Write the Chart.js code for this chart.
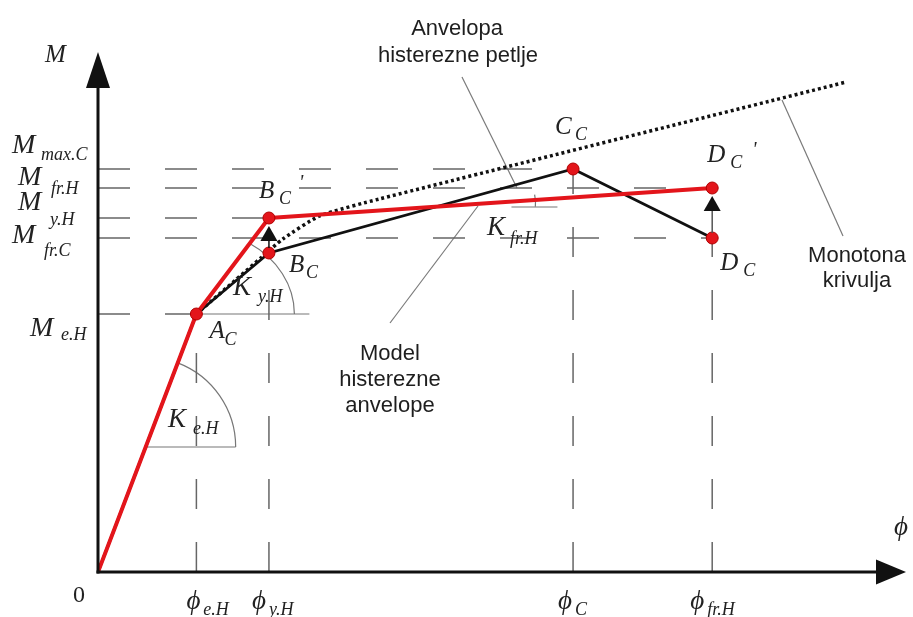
<!DOCTYPE html>
<html><head><meta charset="utf-8">
<script src="https://cdn.jsdelivr.net/npm/chart.js@4.4.1/dist/chart.umd.min.js"></script>
<style>html,body{margin:0;padding:0;background:#fff;}#wrap{width:913px;height:617px;position:relative;}</style>
</head><body><div id="wrap"><canvas id="c"></canvas></div>
<script>
// ---- symbolic tick values (curvature phi, moment M) ----
const phiTickLabels = ['e.H', 'y.H', 'C', 'fr.H'];
const phiTicks      = [0.99, 1.72, 4.78, 6.18];
const mTickLabels   = ['e.H', 'fr.C', 'y.H', 'fr.H', 'max.C'];
const mTicks        = [2.58, 3.34, 3.54, 3.84, 4.03];

// ---- hysteresis loop envelope (black): 0, A_C, B_C, C_C, D_C ----
const envelopePhi = [0, 0.99, 1.72, 4.78, 6.18];
const envelopeM   = [0, 2.58, 3.19, 4.03, 3.34];

// ---- model of the hysteresis envelope (red): 0, A_C, B_C', D_C' ----
const modelPhi = [0, 0.99, 1.72, 6.18];
const modelM   = [0, 2.58, 3.54, 3.84];

// ---- monotonic curve (dotted) ----
const monoPhi = [0.99, 1.65, 1.86, 2.23, 2.83, 7.53];
const monoM   = [2.58, 3.15, 3.33, 3.56, 3.73, 4.90];

// ---- dashed reference line extents ----
const hRefEnd = [0.99, 6.18, 1.72, 6.18, 4.78];   // for each mTick
const vRefTop = [2.58, 3.19, 4.03, 3.34];         // for each phiTick

const axisMax = {x: 8.13, y: 5.20};

const RED = '#e3151b';
const SERIF = '"Liberation Serif","DejaVu Serif",serif';
const SANS = '"Liberation Sans",Arial,sans-serif';

const datasets = [];
const markerPts = [];
[1,2,3,4].forEach(i => markerPts.push({x: envelopePhi[i], y: envelopeM[i]}));
[2,3].forEach(i => markerPts.push({x: modelPhi[i], y: modelM[i]}));
datasets.push({data: markerPts, showLine: false, pointRadius: 6, pointBackgroundColor: RED,
  pointBorderColor: '#b00000', pointBorderWidth: 1, order: 0});
datasets.push({data: modelPhi.map((v,i)=>({x:v,y:modelM[i]})), showLine: true, borderColor: RED,
  borderWidth: 4, pointRadius: 0, order: 1, borderJoinStyle: 'round'});
datasets.push({data: envelopePhi.map((v,i)=>({x:v,y:envelopeM[i]})), showLine: true, borderColor: '#111',
  borderWidth: 2.8, pointRadius: 0, order: 2});
datasets.push({data: monoPhi.map((v,i)=>({x:v,y:monoM[i]})), showLine: true, borderColor: '#111',
  borderWidth: 3.5, borderDash: [3, 3], pointRadius: 0, order: 3, tension: 0.2});
mTicks.forEach((m,i) => datasets.push({data: [{x:0,y:m},{x:hRefEnd[i],y:m}], showLine: true,
  borderColor: '#666', borderWidth: 1.5, borderDash: [32, 35], pointRadius: 0, order: 5}));
phiTicks.forEach((p,i) => datasets.push({data: [{x:p,y:0},{x:p,y:vRefTop[i]}], showLine: true,
  borderColor: '#666', borderWidth: 1.5, borderDash: [30, 33], pointRadius: 0, order: 5}));

function txt(ctx, s, x, y, font, align) {
  ctx.font = font; ctx.textAlign = align || 'left'; ctx.textBaseline = 'alphabetic';
  ctx.fillText(s, x, y);
}

const deco = {
  id: 'deco',
  beforeDatasetsDraw(chart) {
    const {ctx, scales: {x, y}} = chart;
    const X = v => x.getPixelForValue(v), Y = v => y.getPixelForValue(v);
    ctx.save();
    ctx.strokeStyle = '#777'; ctx.lineWidth = 1.2;
    // K_e.H angle: centre on red line at M = 1.25
    const ang1 = Math.atan2(Y(0) - Y(modelM[1]), X(modelPhi[1]) - X(0));
    const cy1 = Y(1.25), cx1 = X(0) + (Y(0) - cy1) / Math.tan(ang1);
    ctx.beginPath(); ctx.moveTo(cx1, cy1); ctx.lineTo(cx1 + 90, cy1); ctx.stroke();
    ctx.beginPath(); ctx.arc(cx1, cy1, 90, -ang1, 0); ctx.stroke();
    // K_y.H angle at A_C
    const ax = X(envelopePhi[1]), ay = Y(envelopeM[1]);
    const ang2 = Math.atan2(ay - Y(modelM[2]), X(modelPhi[2]) - ax);
    ctx.beginPath(); ctx.moveTo(ax, ay); ctx.lineTo(ax + 113, ay); ctx.stroke();
    let th = 0;
    for (let t = 0; t < Math.PI/2; t += 0.005) {
      const px = 98*Math.cos(t), py = 84*Math.sin(t);
      if (Math.atan2(py, px) >= ang2) { th = t; break; }
    }
    ctx.beginPath(); ctx.ellipse(ax, ay, 98, 84, 0, -th, 0); ctx.stroke();
    // K_fr.H angle (small)
    const fx = X(4.16), fy = Y(3.65);
    ctx.beginPath(); ctx.moveTo(fx, fy); ctx.lineTo(fx + 46, fy); ctx.stroke();
    ctx.beginPath(); ctx.arc(X(4.02), Y(3.69), 38, -0.22, 0.1); ctx.stroke();
    // leader lines
    ctx.strokeStyle = '#7a7a7a'; ctx.lineWidth = 1.2;
    ctx.beginPath(); ctx.moveTo(462, 77); ctx.lineTo(517, 188); ctx.stroke();
    ctx.beginPath(); ctx.moveTo(390, 323); ctx.lineTo(478, 206); ctx.stroke();
    ctx.beginPath(); ctx.moveTo(782, 100); ctx.lineTo(843, 236); ctx.stroke();
    ctx.restore();
  },
  afterDatasetsDraw(chart) {
    const {ctx, scales: {x, y}} = chart;
    const X = v => x.getPixelForValue(v), Y = v => y.getPixelForValue(v);
    ctx.save();
    const x0 = X(0), y0 = Y(0), xm = X(axisMax.x), ym = Y(axisMax.y);
    // axes
    ctx.strokeStyle = '#111'; ctx.fillStyle = '#111'; ctx.lineWidth = 3;
    ctx.beginPath(); ctx.moveTo(x0, y0 + 1.5); ctx.lineTo(x0, ym + 36); ctx.stroke();
    ctx.beginPath(); ctx.moveTo(x0 - 1.5, y0); ctx.lineTo(xm - 28, y0); ctx.stroke();
    ctx.beginPath(); ctx.moveTo(x0, ym); ctx.lineTo(x0 - 12, ym + 36); ctx.lineTo(x0 + 12, ym + 36); ctx.closePath(); ctx.fill();
    ctx.beginPath(); ctx.moveTo(xm, y0); ctx.lineTo(xm - 30, y0 - 12.5); ctx.lineTo(xm - 30, y0 + 12.5); ctx.closePath(); ctx.fill();
    // small arrows B_C -> B_C', D_C -> D_C'
    [[2, 2, 1.5, '#111'], [4, 3, 1.5, '#555']].forEach(([ei, mi, lw, col]) => {
      const px = X(envelopePhi[ei]), top = Y(modelM[mi]) + 8, bot = Y(envelopeM[ei]);
      ctx.strokeStyle = col; ctx.lineWidth = lw;
      ctx.beginPath(); ctx.moveTo(px, top + 14); ctx.lineTo(px, bot - 5); ctx.stroke();
      ctx.fillStyle = '#111';
      ctx.beginPath(); ctx.moveTo(px, top); ctx.lineTo(px - 8.5, top + 15); ctx.lineTo(px + 8.5, top + 15); ctx.closePath(); ctx.fill();
    });
    ctx.fillStyle = '#222';
    const mainF = 'italic 28px ' + SERIF, subF = 'italic 18px ' + SERIF;
    // y tick labels (M)
    const yLay = [ // [Mx, Mdy, subx, subdy]
      [30, 22, 61, 26], [12, 5, 44, 18], [18, -8, 50, 7], [18, -3, 51, 6], [12, -16, 41, -9]];
    mTicks.forEach((m, i) => {
      const ty = Y(m), L = yLay[i];
      txt(ctx, 'M', L[0], ty + L[1], mainF);
      txt(ctx, mTickLabels[i], L[2], ty + L[3], subF);
    });
    // x tick labels (phi)
    const xOff = [-10, -17, -15, -22];
    phiTicks.forEach((p, i) => {
      const tx = X(p) + xOff[i];
      txt(ctx, '\u03D5', tx, 609, 'italic 27px ' + SERIF);
      const w = ctx.measureText('\u03D5').width;
      txt(ctx, phiTickLabels[i], tx + w + 3, 615, subF);
    });
    // axis titles
    txt(ctx, 'M', 45, 62, 'italic 25px ' + SERIF);
    txt(ctx, '0', 73, 602, '24px ' + SERIF);
    txt(ctx, '\u03D5', 894, 535, 'italic 27px ' + SERIF);
    // point labels
    const ptF = 'italic 25px ' + SERIF, ptS = 'italic 18px ' + SERIF;
    const pl = (name, px, py, dx, dy, sdx, sdy, prime) => {
      txt(ctx, name, px + dx, py + dy, ptF);
      txt(ctx, 'C', px + sdx, py + sdy, ptS);
      if (prime) txt(ctx, "'", px + prime[0], py + prime[1], 'italic 20px ' + SERIF);
    };
    pl('A', X(envelopePhi[1]), Y(envelopeM[1]), 13, 24, 28, 31);
    pl('B', X(envelopePhi[2]), Y(envelopeM[2]), 20, 19, 37, 25);
    pl('C', X(envelopePhi[3]), Y(envelopeM[3]), -18, -35, 2, -29);
    pl('D', X(envelopePhi[4]), Y(envelopeM[4]), 8, 32, 31, 38);
    pl('B', X(modelPhi[2]), Y(modelM[2]), -10, -20, 10, -14, [30, -29]);
    pl('D', X(modelPhi[3]), Y(modelM[3]), -5, -26, 18, -20, [40, -32]);
    // stiffness labels
    const kF = 'italic 27px ' + SERIF;
    txt(ctx, 'K', 168, 427, kF); txt(ctx, 'e.H', 193, 434, subF);
    txt(ctx, 'K', 233, 295, kF); txt(ctx, 'y.H', 258, 302, subF);
    txt(ctx, 'K', 487, 235, kF); txt(ctx, 'fr.H', 510, 244, subF);
    // annotations
    const aF = '22px ' + SANS;
    ctx.fillStyle = '#1e1e1e';
    txt(ctx, 'Anvelopa', 457, 35, aF, 'center');
    txt(ctx, 'histerezne petlje', 458, 62, aF, 'center');
    txt(ctx, 'Model', 390, 360, aF, 'center');
    txt(ctx, 'histerezne', 390, 386, aF, 'center');
    txt(ctx, 'anvelope', 390, 412, aF, 'center');
    txt(ctx, 'Monotona', 857, 262, aF, 'center');
    txt(ctx, 'krivulja', 857, 287, aF, 'center');
    ctx.restore();
  }
};

new Chart(document.getElementById('c'), {
  type: 'scatter',
  data: {datasets},
  options: {
    responsive: true, maintainAspectRatio: false, animation: false,
    layout: {padding: {left: 98, right: 2, top: 52, bottom: 45}},
    plugins: {legend: {display: false}, tooltip: {enabled: false}},
    scales: {
      x: {type: 'linear', min: 0, max: axisMax.x, display: false},
      y: {type: 'linear', min: 0, max: axisMax.y, display: false}
    }
  },
  plugins: [deco]
});
</script></body></html>
